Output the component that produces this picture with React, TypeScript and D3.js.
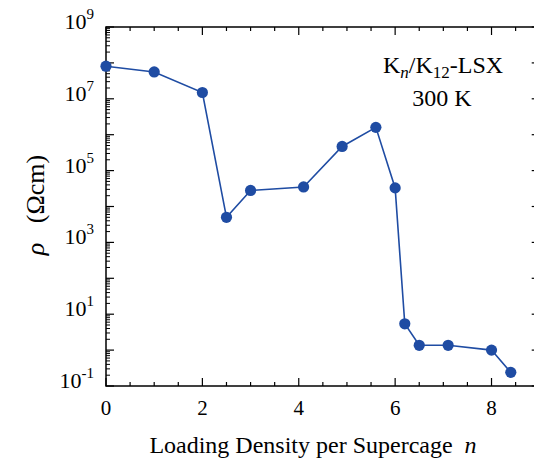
import React, { useRef, useEffect } from "react";
import * as d3 from "d3";

// loading density per supercage n
const loading = [0, 1, 2, 2.5, 3, 4.1, 4.9, 5.6, 6.0, 6.2, 6.5, 7.1, 8.0, 8.4];
// resistivity rho (Ohm cm) at 300 K
const resistivity = [8.1e7, 5.6e7, 1.5e7, 5.0e3, 2.8e4, 3.5e4, 4.7e5, 1.6e6, 3.3e4, 5.4, 1.36, 1.36, 1.0, 0.24];
const xTicks = [0, 2, 4, 6, 8];
const yExponents = [-1, 1, 3, 5, 7, 9];

const App = () => {
    const svgRef = useRef<SVGSVGElement>(null);

    useEffect(() => {
        if (!svgRef.current) return;
        const svg = d3.select(svgRef.current);
        svg.selectAll("*").remove();

        const width = 534;
        const height = 459;
        const margin = { top: 27, left: 106, bottom: 73 };
        const font = "Liberation Serif";
        const blue = "#1f4ca3";

        const x = d3.scaleLinear().domain([0, 9]).range([margin.left, margin.left + 9 * 48.19]);
        const y = d3.scaleLog().domain([0.1, 1e9]).range([height - margin.bottom, margin.top]);
        const [x0, x1] = x.range();
        const [y0, y1] = y.range();

        const g = svg.append("g").style("font-family", font);

        // minor + major ticks along x (every 0.5)
        const xt = d3.range(0, 9.01, 0.5);
        xt.forEach((v) => {
            const len = v % 2 === 0 ? 8 : 4;
            g.append("line").attr("x1", x(v)).attr("x2", x(v)).attr("y1", y0).attr("y2", y0 - len)
                .attr("stroke", "#000").attr("stroke-width", 1.2);
            g.append("line").attr("x1", x(v)).attr("x2", x(v)).attr("y1", y1).attr("y2", y1 + len)
                .attr("stroke", "#000").attr("stroke-width", 1.2);
        });

        // log ticks along y
        for (let e = -1; e <= 9; e++) {
            const base = Math.pow(10, e);
            g.append("line").attr("x1", x0).attr("x2", x0 + 8).attr("y1", y(base)).attr("y2", y(base))
                .attr("stroke", "#000").attr("stroke-width", 1.2);
            g.append("line").attr("x1", x1).attr("x2", x1 - 8).attr("y1", y(base)).attr("y2", y(base))
                .attr("stroke", "#000").attr("stroke-width", 1.2);
            if (e < 9) {
                for (let m = 2; m <= 9; m++) {
                    g.append("line").attr("x1", x0).attr("x2", x0 + 4)
                        .attr("y1", y(m * base)).attr("y2", y(m * base))
                        .attr("stroke", "#000").attr("stroke-width", 1);
                }
            }
        }

        g.append("rect").attr("x", x0).attr("y", y1).attr("width", x1 - x0).attr("height", y0 - y1)
            .attr("fill", "none").attr("stroke", "#000").attr("stroke-width", 1.5);

        // x tick labels
        g.selectAll(".xl").data(xTicks).enter().append("text")
            .attr("x", (d) => x(d)).attr("y", 415)
            .attr("text-anchor", "middle").style("font-size", "21px")
            .text((d) => d);

        // y tick labels 10^e
        yExponents.forEach((e) => {
            const t = g.append("text").attr("x", 94).attr("y", y(Math.pow(10, e)) + 2)
                .attr("text-anchor", "end").style("font-size", "22px");
            t.append("tspan").text("10");
            t.append("tspan").attr("dy", -10).style("font-size", "15px").text(e);
        });

        // data line + markers
        const pts = loading.map((n, i) => [n, resistivity[i]] as [number, number]);
        const line = d3.line<[number, number]>().x((d) => x(d[0])).y((d) => y(d[1]));
        g.append("path").attr("d", line(pts)).attr("fill", "none").attr("stroke", blue).attr("stroke-width", 1.6);
        g.selectAll(".pt").data(pts).enter().append("circle")
            .attr("cx", (d) => x(d[0])).attr("cy", (d) => y(d[1])).attr("r", 5.6).attr("fill", blue);

        // axis titles
        const xl = g.append("text").attr("x", 313).attr("y", 453).attr("text-anchor", "middle")
            .style("font-size", "24px");
        xl.append("tspan").text("Loading Density per Supercage\u00a0\u00a0");
        xl.append("tspan").style("font-style", "italic").text("n");

        const yl = g.append("text").attr("transform", "translate(44,205) rotate(-90)")
            .attr("text-anchor", "middle").style("font-size", "26px");
        yl.append("tspan").style("font-style", "italic").text("\u03c1");
        yl.append("tspan").text("\u00a0\u00a0\u00a0(\u03a9cm)");

        // annotation
        const a = g.append("text").attr("x", 443).attr("y", 73).attr("text-anchor", "middle")
            .style("font-size", "24px");
        a.append("tspan").text("K");
        a.append("tspan").style("font-style", "italic").style("font-size", "17px").attr("dy", 5).text("n");
        a.append("tspan").attr("dy", -5).text("/K");
        a.append("tspan").style("font-size", "17px").attr("dy", 5).text("12");
        a.append("tspan").attr("dy", -5).text("-LSX");
        g.append("text").attr("x", 442).attr("y", 106).attr("text-anchor", "middle")
            .style("font-size", "24px").text("300 K");

        svg.attr("width", width).attr("height", height);
    }, []);

    return (
        <svg ref={svgRef} style={{ position: "absolute", left: 0, top: 0, background: "#fff" }} />
    );
};

export default App;
